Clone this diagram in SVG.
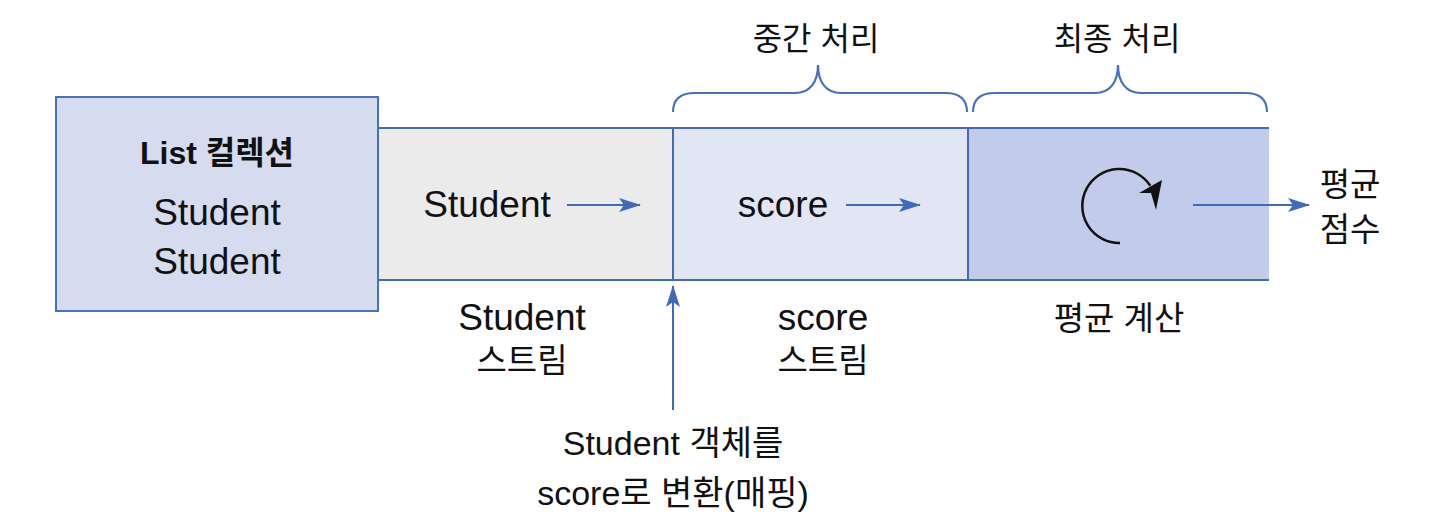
<svg xmlns="http://www.w3.org/2000/svg" width="1447" height="531" viewBox="0 0 1447 531">
<style>
text{font-family:"Liberation Sans","Noto Sans CJK KR",sans-serif;fill:#111;text-anchor:middle}
.k32{font-size:32px}
.k33{font-size:33px}
.m34{font-size:34px}
.l37{font-size:37px}
.box{stroke:#4670c0;stroke-width:2}
.line{stroke:#3f6bbd;stroke-width:2;fill:none}
.brace{stroke:#4670c0;stroke-width:2.2;fill:none}
</style>
<defs>
<marker id="ab" viewBox="0 0 22 14" refX="21" refY="7" markerWidth="22" markerHeight="14" markerUnits="userSpaceOnUse" orient="auto">
<path d="M0,0 L22,7 L0,14 L5,7 z" fill="#3f6bbd"/>
</marker>
</defs>

<g id="list-node">
<rect class="box" x="56" y="97" width="322" height="214" fill="#d6dcf0"/>
<text x="217" y="164" font-size="32" font-weight="bold">List 컬렉션</text>
<text class="l37" x="217" y="225">Student</text>
<text class="l37" x="217" y="274">Student</text>
</g>

<g id="student-stream">
<rect x="379" y="128" width="294" height="152" fill="#ebebeb"/>
<text class="l37" x="487" y="217">Student</text>
</g>

<g id="score-stream">
<rect x="673" y="128" width="295" height="152" fill="#e2e6f4"/>
<text class="l37" x="783" y="217">score</text>
</g>

<g id="final-node">
<rect x="968" y="128" width="301" height="152" fill="#c3cbea"/>
<path d="M1120,243 A37,37 0 1 1 1150.3,185.8" fill="none" stroke="#111" stroke-width="2.5"/>
<polygon points="1139,193 1151,193 1156,210 1162,180" fill="#111"/>
</g>

<g id="band-borders">
<line class="line" x1="378" y1="128" x2="1269" y2="128"/>
<line class="line" x1="378" y1="280" x2="1269" y2="280"/>
<line class="line" x1="673" y1="128" x2="673" y2="280"/>
<line class="line" x1="968" y1="128" x2="968" y2="280"/>
</g>

<g id="braces">
<path class="brace" d="M673,112 C673,100 680,93 695,93 L795,93 C810,93 818,82 818,65 C818,82 826,93 841,93 L945,93 C960,93 967,100 967,112"/>
<path class="brace" d="M973,112 C973,100 980,93 995,93 L1095,93 C1110,93 1118,82 1118,65 C1118,82 1126,93 1141,93 L1245,93 C1260,93 1267,100 1267,112"/>
<text class="k32" x="816" y="50">중간 처리</text>
<text class="k32" x="1117" y="50">최종 처리</text>
</g>

<g id="connectors">
<line class="line" x1="567" y1="205" x2="640" y2="205" marker-end="url(#ab)"/>
<line class="line" x1="846" y1="205" x2="920" y2="205" marker-end="url(#ab)"/>
<line class="line" x1="1193" y1="205" x2="1309" y2="205" marker-end="url(#ab)"/>
<line class="line" x1="673" y1="410" x2="673" y2="286" marker-end="url(#ab)"/>
</g>

<g id="labels">
<text class="k33" x="1350" y="196">평균</text>
<text class="k33" x="1350" y="241">점수</text>
<text class="l37" x="522" y="330">Student</text>
<text class="k33" x="522" y="372">스트림</text>
<text class="l37" x="823" y="330">score</text>
<text class="k33" x="823" y="372">스트림</text>
<text class="k33" x="1119" y="330">평균 계산</text>
<text class="m34" x="673" y="455">Student 객체를</text>
<text class="m34" x="673" y="505">score로 변환(매핑)</text>
</g>
</svg>
